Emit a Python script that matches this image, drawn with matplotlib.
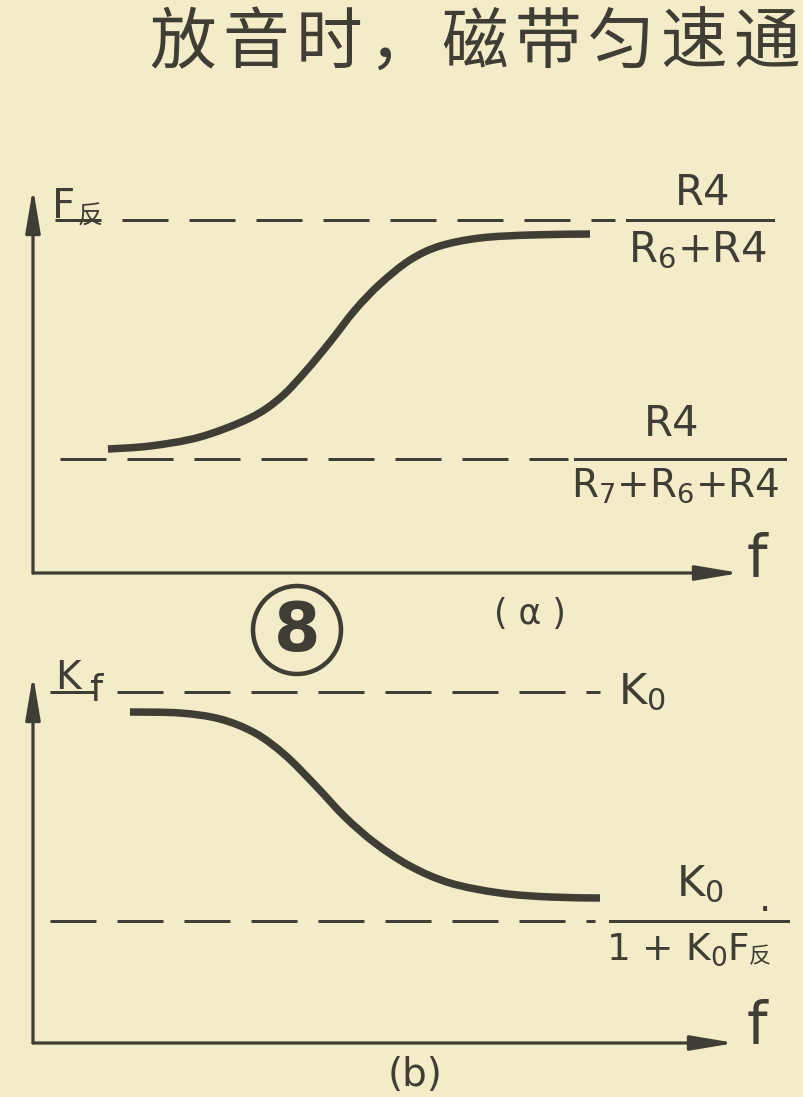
import matplotlib
matplotlib.use("Agg")
import matplotlib.pyplot as plt
from matplotlib.patches import Circle, PathPatch
from matplotlib.path import Path

plt.rcParams['font.family'] = ['DejaVu Sans', 'Noto Sans CJK SC']
plt.rcParams['lines.scale_dashes'] = False
plt.rcParams['mathtext.fontset'] = 'dejavusans'

# ---- data -------------------------------------------------------------
# (a) feedback factor F反 versus frequency f
f_a = [0.75, 1.17, 1.67, 2.17, 2.47, 2.72, 2.97, 3.22, 3.47, 3.77, 4.07, 4.47, 4.97, 5.57]
F_a = [1.24, 1.27, 1.36, 1.55, 1.75, 2.01, 2.31, 2.63, 2.89, 3.13, 3.27, 3.35, 3.38, 3.39]
F_a_high = 3.53   # R4 / (R6 + R4)
F_a_low = 1.14    # R4 / (R7 + R6 + R4)

# (b) closed-loop gain Kf versus frequency f
f_b = [0.97, 1.47, 1.87, 2.22, 2.52, 2.82, 3.12, 3.42, 3.77, 4.17, 4.67, 5.17, 5.67]
K_b = [3.31, 3.30, 3.24, 3.10, 2.88, 2.58, 2.26, 2.00, 1.77, 1.60, 1.50, 1.46, 1.45]
K_b_high = 3.51   # K0
K_b_low = 1.22    # K0 / (1 + K0 F反)

title_chars = list("放音时，磁带匀速通")

# ---- style ------------------------------------------------------------
W, H = 804, 1097
paper = '#f4ebc9'
ink = '#3f3d34'
PX = 72.0 / 100.0          # points per pixel at dpi 100

fig = plt.figure(figsize=(W / 100, H / 100), dpi=100, facecolor=paper)

# overlay in pixel units for lettering
ov = fig.add_axes([0, 0, 1, 1])
ov.set_xlim(0, W)
ov.set_ylim(H, 0)
ov.axis('off')
ov.patch.set_visible(False)


def panel(x0, y0, ytop):
    """Axes whose origin sits at pixel (x0, y0); one data unit = 100 px."""
    ax = fig.add_axes([x0 / W, (H - y0) / H, (W - x0) / W, (y0 - ytop) / H])
    ax.set_xlim(0, (W - x0) / 100)
    ax.set_ylim(0, (y0 - ytop) / 100)
    ax.axis('off')
    ax.patch.set_visible(False)
    return ax


def axes_arrows(ax, xtip, ytip):
    props = dict(arrowstyle='-|>,head_length=1.9,head_width=0.32', lw=3.2 * PX,
                 color=ink, mutation_scale=14, shrinkA=0, shrinkB=0)
    ax.annotate('', xy=(0, ytip), xytext=(0, 0), arrowprops=props)
    ax.annotate('', xy=(xtip, 0), xytext=(0, 0), arrowprops=props)


def smooth_curve(ax, xs, ys, **kw):
    """Catmull-Rom path through the given points, drawn as Bezier segments."""
    pts = list(zip(xs, ys))
    ext = [pts[0]] + pts + [pts[-1]]
    verts = [pts[0]]
    codes = [Path.MOVETO]
    for i in range(1, len(ext) - 2):
        p0, p1, p2, p3 = ext[i - 1], ext[i], ext[i + 1], ext[i + 2]
        c1 = (p1[0] + (p2[0] - p0[0]) / 6, p1[1] + (p2[1] - p0[1]) / 6)
        c2 = (p2[0] - (p3[0] - p1[0]) / 6, p2[1] - (p3[1] - p1[1]) / 6)
        verts += [c1, c2, p2]
        codes += [Path.CURVE4] * 3
    ax.add_patch(PathPatch(Path(verts, codes), fill=False, **kw))


dash = (0, (46 * PX, 21 * PX))
dash_lw = 3.0 * PX
curve_kw = dict(edgecolor=ink, lw=7.5 * PX, capstyle='butt', joinstyle='round')

# ---- panel (a) ---------------------------------------------------------
axa = panel(33, 573, 170)
axes_arrows(axa, 7.07, 3.85)
axa.plot([0.22, 5.82], [F_a_high] * 2, color=ink, lw=dash_lw, linestyle=dash)
axa.plot([5.94, 7.40], [F_a_high] * 2, color=ink, lw=dash_lw)
axa.plot([0.27, 5.35], [F_a_low] * 2, color=ink, lw=dash_lw, linestyle=dash)
axa.plot([5.42, 7.52], [F_a_low] * 2, color=ink, lw=dash_lw)
smooth_curve(axa, f_a, F_a, **curve_kw)

# ---- panel (b) ---------------------------------------------------------
axb = panel(33, 1043, 650)
axes_arrows(axb, 7.02, 3.68)
axb.plot([0.17, 5.67], [K_b_high] * 2, color=ink, lw=dash_lw, linestyle=dash)
axb.plot([0.17, 5.62], [K_b_low] * 2, color=ink, lw=dash_lw, linestyle=dash)
axb.plot([5.77, 7.55], [K_b_low] * 2, color=ink, lw=dash_lw)
smooth_curve(axb, f_b, K_b, **curve_kw)

# ---- lettering -----------------------------------------------------------
cjk = ['Noto Sans CJK SC']
for i, ch in enumerate(title_chars):
    ov.text(183 + 73 * i, 44, ch, fontsize=48, color=ink, ha='center',
            va='center', family=cjk, fontweight='light')

lbl = dict(color=ink, ha='center', va='center')

# panel (a)
tF = ov.text(52, 218, 'F', fontsize=29, ha='left', va='baseline', color=ink)
ov.annotate('反', xy=(1, 0), xycoords=tF, xytext=(2, -2),
            textcoords='offset points', fontsize=18, ha='left', va='bottom',
            color=ink, family=cjk)
ov.text(703, 193, 'R4', fontsize=30, **lbl)
ov.text(697, 250, r'R$_6$+R4', fontsize=30, **lbl)
ov.text(672, 424, 'R4', fontsize=30, **lbl)
ov.text(675, 486, r'R$_7$+R$_6$+R4', fontsize=28, **lbl)
ov.text(757, 560, 'f', fontsize=42, **lbl)
ov.text(530, 614, '( α )', fontsize=25, **lbl)

# figure number
ov.add_patch(Circle((297, 630), 44, fill=False, lw=4.5 * PX, color=ink))
ov.text(297, 632, '8', fontsize=48, fontweight='bold', **lbl)

# panel (b)
tK = ov.text(55, 689, 'K', fontsize=28, ha='left', va='baseline', color=ink)
ov.annotate('f', xy=(1, 0), xycoords=tK, xytext=(6, -3),
            textcoords='offset points', fontsize=27, ha='left',
            va='baseline', color=ink)
ov.text(642, 692, r'K$_0$', fontsize=31, **lbl)
ov.text(700, 884, r'K$_0$', fontsize=31, **lbl)
ov.text(765, 900, '.', fontsize=28, **lbl)
tD = ov.text(606, 960, r'1 + K$_0$F', fontsize=27, ha='left', va='baseline',
             color=ink)
ov.annotate('反', xy=(1, 0), xycoords=tD, xytext=(0, 0),
            textcoords='offset points', fontsize=16, ha='left', va='bottom',
            color=ink, family=cjk)
ov.text(757, 1027, 'f', fontsize=42, **lbl)
ov.text(415, 1075, '(b)', fontsize=28, **lbl)

fig.savefig('out.png', dpi=100, facecolor=paper)
